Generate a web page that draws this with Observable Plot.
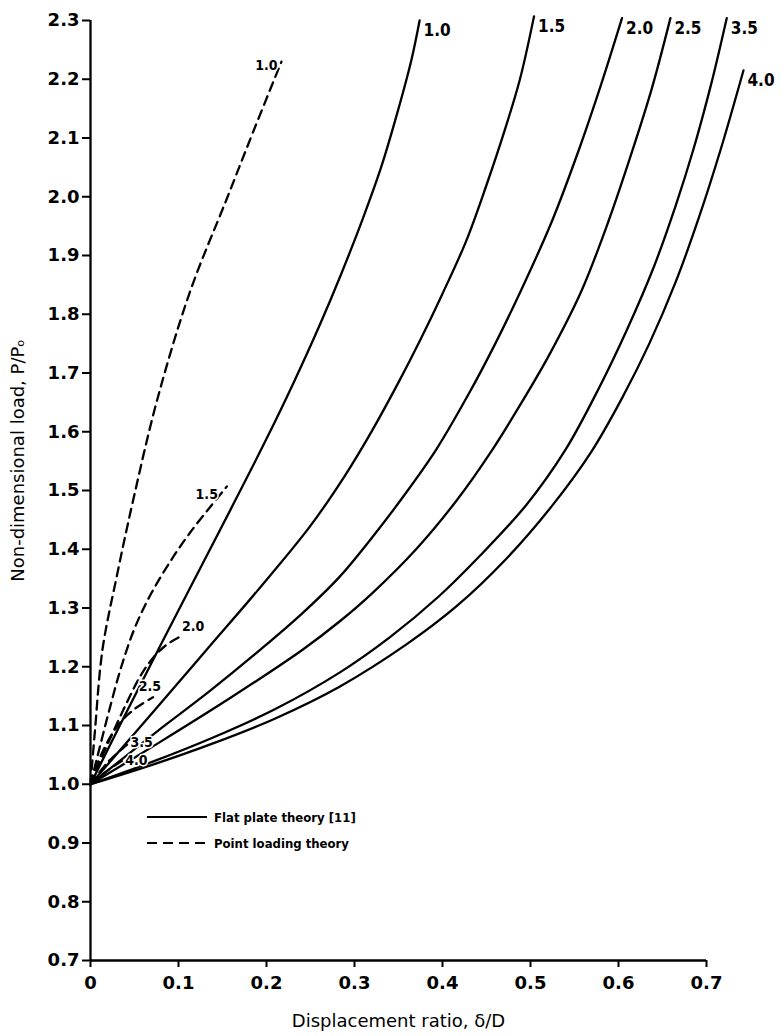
<!DOCTYPE html>
<html>
<head>
<meta charset="utf-8">
<script src="https://cdn.jsdelivr.net/npm/d3@7"></script>
<script src="https://cdn.jsdelivr.net/npm/@observablehq/plot@0.6"></script>
<style>
  body { margin: 0; background: #fff; }
  #wrap { position: relative; width: 781px; height: 1036px; }
  #legend { position: absolute; left: 0; top: 0; pointer-events: none; }
  g[aria-label="y-axis tick label"] text, g[aria-label="x-axis tick label"] text { font-weight: bold; }
</style>
</head>
<body>
<div id="wrap"></div>
<script>
// ---- Tick values ----
const xTicks = [0, 0.1, 0.2, 0.3, 0.4, 0.5, 0.6, 0.7];
const yTicks = [0.7, 0.8, 0.9, 1.0, 1.1, 1.2, 1.3, 1.4, 1.5, 1.6, 1.7, 1.8, 1.9, 2.0, 2.1, 2.2, 2.3];

// ---- Curve labels (ratio) ----
const ratioLabels = ["1.0", "1.5", "2.0", "2.5", "3.5", "4.0"];

// ---- Flat plate theory [11] (solid) : [δ/D, P/Po] ----
const flat_1_0 = [[0,1.0],[0.04,1.12],[0.08,1.238],[0.12,1.354],[0.16,1.47],[0.20,1.588],[0.23,1.681],[0.26,1.78],[0.285,1.869],[0.31,1.965],[0.33,2.049],[0.35,2.15],[0.365,2.235],[0.374,2.30]];
const flat_1_5 = [[0,1.0],[0.066,1.114],[0.132,1.229],[0.19,1.33],[0.249,1.438],[0.289,1.525],[0.32,1.602],[0.35,1.684],[0.375,1.757],[0.40,1.835],[0.427,1.925],[0.45,2.02],[0.47,2.11],[0.488,2.20],[0.504,2.307]];
const flat_2_0 = [[0,1.0],[0.074,1.088],[0.135,1.158],[0.193,1.229],[0.24,1.29],[0.283,1.353],[0.32,1.42],[0.359,1.497],[0.393,1.57],[0.43,1.665],[0.46,1.75],[0.49,1.843],[0.524,1.957],[0.555,2.08],[0.58,2.19],[0.604,2.304]];
const flat_2_5 = [[0,1.0],[0.077,1.07],[0.16,1.148],[0.241,1.229],[0.283,1.277],[0.32,1.325],[0.37,1.40],[0.416,1.483],[0.456,1.568],[0.49,1.65],[0.521,1.73],[0.558,1.84],[0.589,1.96],[0.615,2.075],[0.638,2.185],[0.659,2.304]];
const flat_3_5 = [[0,1.0],[0.07,1.038],[0.14,1.08],[0.21,1.128],[0.283,1.19],[0.34,1.25],[0.396,1.32],[0.442,1.388],[0.495,1.475],[0.54,1.57],[0.578,1.675],[0.61,1.775],[0.64,1.88],[0.665,1.985],[0.685,2.08],[0.705,2.19],[0.723,2.304]];
const flat_4_0 = [[0,1.0],[0.07,1.033],[0.14,1.07],[0.21,1.112],[0.283,1.166],[0.359,1.238],[0.416,1.303],[0.472,1.383],[0.524,1.473],[0.57,1.568],[0.605,1.66],[0.635,1.75],[0.665,1.855],[0.691,1.963],[0.716,2.08],[0.742,2.215]];

// ---- Point loading theory (dashed) : [δ/D, P/Po] ----
const point_1_0 = [[0,1.0],[0.005,1.09],[0.0136,1.229],[0.03,1.355],[0.0487,1.485],[0.0759,1.655],[0.113,1.838],[0.155,1.997],[0.185,2.111],[0.217,2.23]];
const point_1_5 = [[0,1.0],[0.01,1.06],[0.022,1.13],[0.035,1.2],[0.05,1.265],[0.068,1.322],[0.091,1.38],[0.113,1.428],[0.136,1.472],[0.155,1.507]];
const point_2_0 = [[0,1.0],[0.02,1.07],[0.04,1.135],[0.057,1.185],[0.071,1.215],[0.087,1.238],[0.104,1.253]];
const point_2_5 = [[0,1.0],[0.012,1.05],[0.031,1.1],[0.05,1.128],[0.071,1.148]];
const point_3_5 = [[0,1.0],[0.02,1.038],[0.042,1.068]];
const point_4_0 = [[0,1.0],[0.018,1.022],[0.036,1.04]];

// ---- Text ----
const xTitle = "Displacement ratio, δ/D";
const yTitle = "Non-dimensional load, P/Pₒ";
const legendNames = ["Flat plate theory [11]", "Point loading theory"];

// ---- Build tables ----
const flatSets = [flat_1_0, flat_1_5, flat_2_0, flat_2_5, flat_3_5, flat_4_0];
const pointSets = [point_1_0, point_1_5, point_2_0, point_2_5, point_3_5, point_4_0];
const toRows = sets => sets.flatMap((pts, i) => pts.map(([x, y]) => ({ratio: ratioLabels[i], x, y})));
const ends = sets => sets.map((pts, i) => ({ratio: ratioLabels[i], x: pts[pts.length - 1][0], y: pts[pts.length - 1][1]}));
const flatRows = toRows(flatSets);
const pointRows = toRows(pointSets);
const flatEnds = ends(flatSets);
const pointEnds = ends(pointSets);

// label offsets for the point-loading labels (styling only)
const pointLabelStyle = {
  "1.0": {textAnchor: "end", dx: -4, dy: 4},
  "1.5": {textAnchor: "end", dx: -9, dy: 8},
  "2.0": {textAnchor: "start", dx: 0, dy: -9},
  "2.5": {textAnchor: "middle", dx: -3, dy: -11},
  "3.5": {textAnchor: "start", dx: 3, dy: -2},
  "4.0": {textAnchor: "start", dx: 3, dy: 0}
};

const font = "DejaVu Sans";
const condensed = "'DejaVu Sans Condensed', 'DejaVu Sans'";

const chart = Plot.plot({
  width: 781,
  height: 1036,
  marginLeft: 90,
  marginRight: 75,
  marginTop: 20,
  marginBottom: 76,
  x: {domain: [xTicks[0], xTicks[xTicks.length - 1]]},
  y: {domain: [yTicks[0], yTicks[yTicks.length - 1]]},
  style: {fontFamily: font, color: "black", background: "white", overflow: "visible"},
  marks: [
    Plot.ruleX([xTicks[0]], {stroke: "black", strokeWidth: 2.3}),
    Plot.ruleY([yTicks[0]], {stroke: "black", strokeWidth: 2.3}),
    Plot.axisX({ticks: xTicks, tickFormat: d => d === 0 ? "0" : d.toFixed(1), tickSize: 7, tickPadding: 9,
      fontSize: 18, fontWeight: "bold", strokeWidth: 2, label: null}),
    Plot.axisY({ticks: yTicks, tickFormat: d => d.toFixed(1), tickSize: 8, tickPadding: 3,
      fontSize: 18, fontWeight: "bold", strokeWidth: 2, label: null}),
    Plot.line(flatRows, {x: "x", y: "y", z: "ratio", stroke: "black", strokeWidth: 2.3, curve: "catmull-rom"}),
    Plot.line(pointRows, {x: "x", y: "y", z: "ratio", stroke: "black", strokeWidth: 2.3, strokeDasharray: "9,6", curve: "catmull-rom"}),
    Plot.text(flatEnds, {x: "x", y: "y", text: "ratio", textAnchor: "start", dx: 4, dy: 10,
      fontSize: 17, fontWeight: "bold", fontFamily: condensed}),
    ...pointEnds.map(d => Plot.text([d], {x: "x", y: "y", text: "ratio",
      ...pointLabelStyle[d.ratio], fontSize: 14, fontWeight: "bold", fontFamily: condensed,
      stroke: "white", strokeWidth: 3, fill: "black"})),
    Plot.text([xTitle], {text: d => d, frameAnchor: "bottom", dy: 66, fontSize: 18}),
    Plot.text([yTitle], {text: d => d, frameAnchor: "left", textAnchor: "middle", rotate: -90, dx: -72, dy: -30, fontSize: 18})
  ]
});

const wrap = document.getElementById("wrap");
wrap.appendChild(chart);

// ---- Legend (inside plot area, lower-left) ----
const ns = "http://www.w3.org/2000/svg";
const leg = document.createElementNS(ns, "svg");
leg.setAttribute("id", "legend");
leg.setAttribute("width", 781);
leg.setAttribute("height", 1036);
const rows = [{y: 817, dash: null}, {y: 843, dash: "10,6"}];
rows.forEach((r, i) => {
  const ln = document.createElementNS(ns, "line");
  ln.setAttribute("x1", 147); ln.setAttribute("x2", 207);
  ln.setAttribute("y1", r.y); ln.setAttribute("y2", r.y);
  ln.setAttribute("stroke", "black"); ln.setAttribute("stroke-width", 2);
  if (r.dash) ln.setAttribute("stroke-dasharray", r.dash);
  leg.appendChild(ln);
  const tx = document.createElementNS(ns, "text");
  tx.setAttribute("x", 214); tx.setAttribute("y", r.y + 5);
  tx.setAttribute("font-family", condensed);
  tx.setAttribute("font-size", 13);
  tx.setAttribute("font-weight", "bold");
  tx.textContent = legendNames[i];
  leg.appendChild(tx);
});
wrap.appendChild(leg);
</script>
</body>
</html>
